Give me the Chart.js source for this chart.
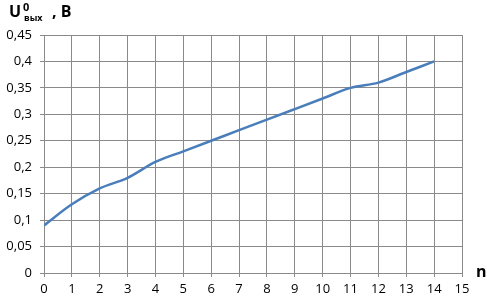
<!DOCTYPE html>
<html>
<head>
<meta charset="utf-8">
<script src="https://cdn.jsdelivr.net/npm/chart.js@4/dist/chart.umd.min.js"></script>
<style>
  html, body { margin: 0; padding: 0; background: #fff; }
  #wrap { position: relative; width: 487px; height: 301px; }
  canvas { display: block; }
  .lbl { position: absolute; font-family: "Open Sans", sans-serif; font-weight: bold; color: #000; white-space: nowrap; line-height: 1; }
  #ytitle { left: 9px; top: 3px; font-size: 16px; }
  #ytitle .sup { position: absolute; left: 14px; top: -2px; font-size: 11px; }
  #ytitle .sub { position: absolute; left: 15px; top: 10px; font-size: 9px; }
  #ytitle .unit { position: absolute; left: 43px; top: 0; }
  #xtitle { left: 476px; top: 263px; font-size: 16px; }
</style>
</head>
<body>
<div id="wrap">
  <canvas id="chart" width="487" height="301"></canvas>
  <div class="lbl" id="ytitle">U<span class="sup">0</span><span class="sub">вых</span><span class="unit">, B</span></div>
  <div class="lbl" id="xtitle">n</div>
</div>
<script>
document.addEventListener('DOMContentLoaded', () => {

    // --- Data ---
    const nValues = [0, 1, 2, 3, 4, 5, 6, 7, 8, 9, 10, 11, 12, 13, 14];
    const uOut = [0.09, 0.13, 0.16, 0.18, 0.21, 0.23, 0.25, 0.27, 0.29, 0.31, 0.33, 0.35, 0.36, 0.38, 0.40];
    const xRange = [0, 15];
    const yRange = [0, 0.45];
    const yStep = 0.05;

    const points = nValues.map((n, i) => ({ x: n, y: uOut[i] }));

    const gridColor = '#8a8a8a';
    const tickFont = { family: '"Open Sans", sans-serif', size: 13 };

    const formatY = v => {
        const s = parseFloat(v.toFixed(2)).toString();
        return s.replace('.', ',');
    };

    new Chart(document.getElementById('chart'), {
        type: 'line',
        data: {
            datasets: [{
                data: points,
                borderColor: '#4a7ebb',
                borderWidth: 2.5,
                pointRadius: 0,
                cubicInterpolationMode: 'monotone',
                fill: false
            }]
        },
        options: {
            responsive: false,
            animation: false,
            layout: { padding: { top: 35, right: 25, left: 0, bottom: 0 } },
            plugins: { legend: { display: false }, tooltip: { enabled: false } },
            scales: {
                x: {
                    type: 'linear',
                    min: xRange[0],
                    max: xRange[1],
                    ticks: { stepSize: 1, color: '#000', font: tickFont, padding: 4, maxRotation: 0 },
                    grid: { color: gridColor, tickLength: 4, lineWidth: 1 },
                    border: { color: gridColor },
                    afterFit: scale => { scale.height = 28; }
                },
                y: {
                    min: yRange[0],
                    max: yRange[1],
                    ticks: { stepSize: yStep, color: '#000', font: tickFont, padding: 8, callback: formatY },
                    grid: { color: gridColor, tickLength: 4, lineWidth: 1 },
                    border: { color: gridColor },
                    afterFit: scale => { scale.width = 44; }
                }
            }
        }
    });
});
</script>
</body>
</html>
